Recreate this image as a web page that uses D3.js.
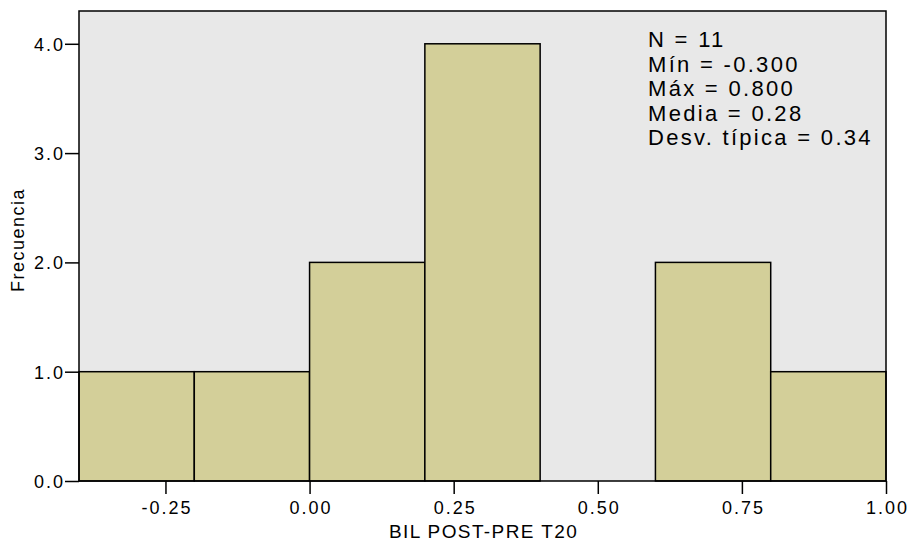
<!DOCTYPE html>
<html>
<head>
<meta charset="utf-8">
<script src="https://cdn.jsdelivr.net/npm/d3@7"></script>
<style>
  body { margin: 0; background: #fff; }
  svg text { font-family: "Liberation Sans", Arial, sans-serif; fill: #000; }
</style>
</head>
<body>
<div id="chart"></div>
<script>
// histogram bins (lower edge, upper edge) and counts
const binStart = [-0.4, -0.2, 0.0, 0.2, 0.4, 0.6, 0.8]
const binEnd = [-0.2, 0.0, 0.2, 0.4, 0.6, 0.8, 1.0]
const counts = [1, 1, 2, 4, 0, 2, 1]
const xTicks = [-0.25, 0.0, 0.25, 0.5, 0.75, 1.0]
const yTicks = [0, 1, 2, 3, 4]
const statLines = ["N = 11", "Mín = -0.300", "Máx = 0.800", "Media = 0.28", "Desv. típica = 0.34"]

const W = 910, H = 543
const margin = { top: 11, right: 24, bottom: 62, left: 79 }

const svg = d3.select("#chart").append("svg")
    .attr("width", W)
    .attr("height", H)

const x = d3.scaleLinear().domain([-0.4, 1.0]).range([margin.left, W - margin.right])
const y = d3.scaleLinear().domain([0, 4.3]).range([H - margin.bottom, margin.top])

// plain hyphen instead of unicode minus, like the original
const fmt = f => v => d3.format(f)(v).replace("\u2212", "-")

// plot background
svg.append("rect")
    .attr("x", x(-0.4))
    .attr("y", y(4.3))
    .attr("width", x(1.0) - x(-0.4))
    .attr("height", y(0) - y(4.3))
    .attr("fill", "#e8e8e8")

// bars
const bins = binStart.map((s, i) => ({ x0: s, x1: binEnd[i], n: counts[i] }))
svg.append("g")
    .selectAll("rect")
    .data(bins.filter(d => d.n > 0))
    .enter().append("rect")
    .attr("x", d => x(d.x0))
    .attr("y", d => y(d.n))
    .attr("width", d => x(d.x1) - x(d.x0))
    .attr("height", d => y(0) - y(d.n))
    .attr("fill", "#d3cf99")
    .attr("stroke", "#000")
    .attr("stroke-width", 1.5)

// frame
svg.append("rect")
    .attr("x", x(-0.4))
    .attr("y", y(4.3))
    .attr("width", x(1.0) - x(-0.4))
    .attr("height", y(0) - y(4.3))
    .attr("fill", "none")
    .attr("stroke", "#000")
    .attr("stroke-width", 1.5)

// axes
const xAxis = svg.append("g")
    .attr("transform", `translate(0,${y(0)})`)
    .call(d3.axisBottom(x).tickValues(xTicks).tickFormat(fmt(".2f")).tickSize(13).tickSizeOuter(0))
const yAxis = svg.append("g")
    .attr("transform", `translate(${x(-0.4)},0)`)
    .call(d3.axisLeft(y).tickValues(yTicks).tickFormat(fmt(".1f")).tickSize(14).tickSizeOuter(0))

;[xAxis, yAxis].forEach(a => {
    a.select(".domain").remove()
    a.selectAll("line").attr("stroke", "#000").attr("stroke-width", 1.5)
    a.selectAll("text")
        .style("font-size", "18px")
        .style("letter-spacing", "2px")
        .style("font-family", '"Liberation Sans", Arial, sans-serif')
})
xAxis.selectAll("text").attr("y", 33).attr("dy", 0).attr("dx", "1px")
yAxis.selectAll("text").attr("x", -14).attr("dy", "0.36em")

// axis titles
svg.append("text")
    .attr("x", (x(-0.4) + x(1.0)) / 2 + 1)
    .attr("y", 538)
    .attr("text-anchor", "middle")
    .style("font-size", "19px")
    .style("letter-spacing", "1.4px")
    .text("BIL POST-PRE T20")

svg.append("text")
    .attr("transform", `translate(24,${(y(0) + y(4.3)) / 2 - 6}) rotate(-90)`)
    .attr("text-anchor", "middle")
    .style("font-size", "18px")
    .style("letter-spacing", "1.5px")
    .text("Frecuencia")

// stats box text
svg.append("g")
    .selectAll("text")
    .data(statLines)
    .enter().append("text")
    .attr("x", 648)
    .attr("y", (d, i) => 47 + i * 24.5)
    .style("font-size", "22px")
    .style("letter-spacing", "2.3px")
    .text(d => d)
</script>
</body>
</html>
